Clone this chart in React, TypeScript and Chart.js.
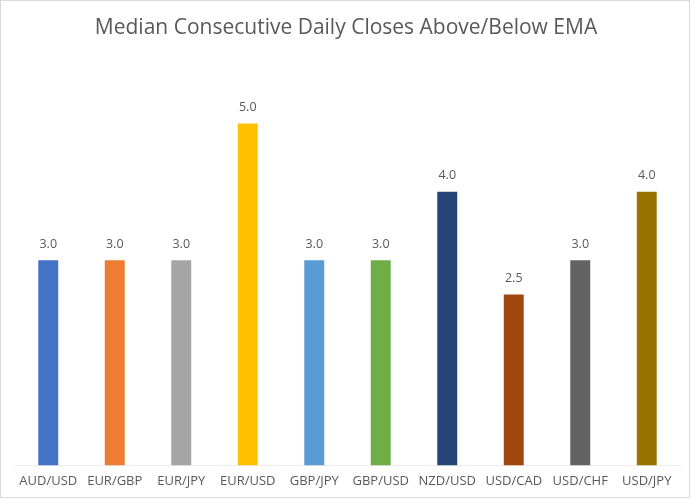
import React, { useEffect, useRef } from "react";
import { Chart, registerables } from "chart.js";

Chart.register(...registerables);

const categories = ["AUD/USD", "EUR/GBP", "EUR/JPY", "EUR/USD", "GBP/JPY", "GBP/USD", "NZD/USD", "USD/CAD", "USD/CHF", "USD/JPY"];
const values = [3.0, 3.0, 3.0, 5.0, 3.0, 3.0, 4.0, 2.5, 3.0, 4.0];
const colors = ["#4472C4", "#ED7D31", "#A5A5A5", "#FFC000", "#5B9BD5", "#70AD47", "#264478", "#9E480E", "#636363", "#997300"];
const titleText = "Median Consecutive Daily Closes Above/Below EMA";

const FONT = "'Open Sans', 'Noto Sans', sans-serif";

export default function App() {
  const ref = useRef<HTMLCanvasElement>(null);
  useEffect(() => {
    document.body.style.margin = "0";
    const canvas = ref.current!;
    const extras = {
      id: "extras",
      beforeDraw(chart: any) {
        const ctx = chart.ctx;
        ctx.save();
        ctx.fillStyle = "#ffffff";
        ctx.fillRect(0, 0, chart.width, chart.height);
        ctx.strokeStyle = "#d9d9d9";
        ctx.lineWidth = 1;
        ctx.strokeRect(0.5, 0.5, chart.width - 3, chart.height - 3);
        ctx.fillStyle = "#595959";
        ctx.font = `21px ${FONT}`;
        ctx.textAlign = "center";
        ctx.textBaseline = "middle";
        ctx.fillText(titleText, chart.width / 2, 28);
        ctx.restore();
      },
      afterDatasetsDraw(chart: any) {
        const ctx = chart.ctx;
        const meta = chart.getDatasetMeta(0);
        ctx.save();
        ctx.fillStyle = "#595959";
        ctx.font = `12.5px ${FONT}`;
        ctx.textAlign = "center";
        ctx.textBaseline = "middle";
        meta.data.forEach((bar: any, i: number) => {
          ctx.fillText(values[i].toFixed(1), bar.x, bar.y - 16);
        });
        ctx.restore();
      },
    };
    const chart = new Chart(canvas, {
      type: "bar",
      data: {
        labels: categories,
        datasets: [
          {
            data: values,
            backgroundColor: colors,
            borderWidth: 0,
            categoryPercentage: 1,
            barPercentage: 0.3,
          },
        ],
      },
      options: {
        animation: false,
        responsive: false,
        maintainAspectRatio: false,
        layout: { padding: { top: 55, left: 15, right: 12, bottom: 11 } },
        plugins: { legend: { display: false }, title: { display: false }, tooltip: { enabled: false } },
        scales: {
          y: { display: false, min: 0, max: 6 },
          x: {
            grid: { display: false },
            border: { display: true, color: "#ececec" },
            ticks: { color: "#595959", font: { family: FONT, size: 13 }, padding: 0, maxRotation: 0 },
          },
        },
      },
      plugins: [extras],
    });
    return () => chart.destroy();
  }, []);
  return <canvas ref={ref} width={692} height={500} style={{ display: "block" }} />;
}
